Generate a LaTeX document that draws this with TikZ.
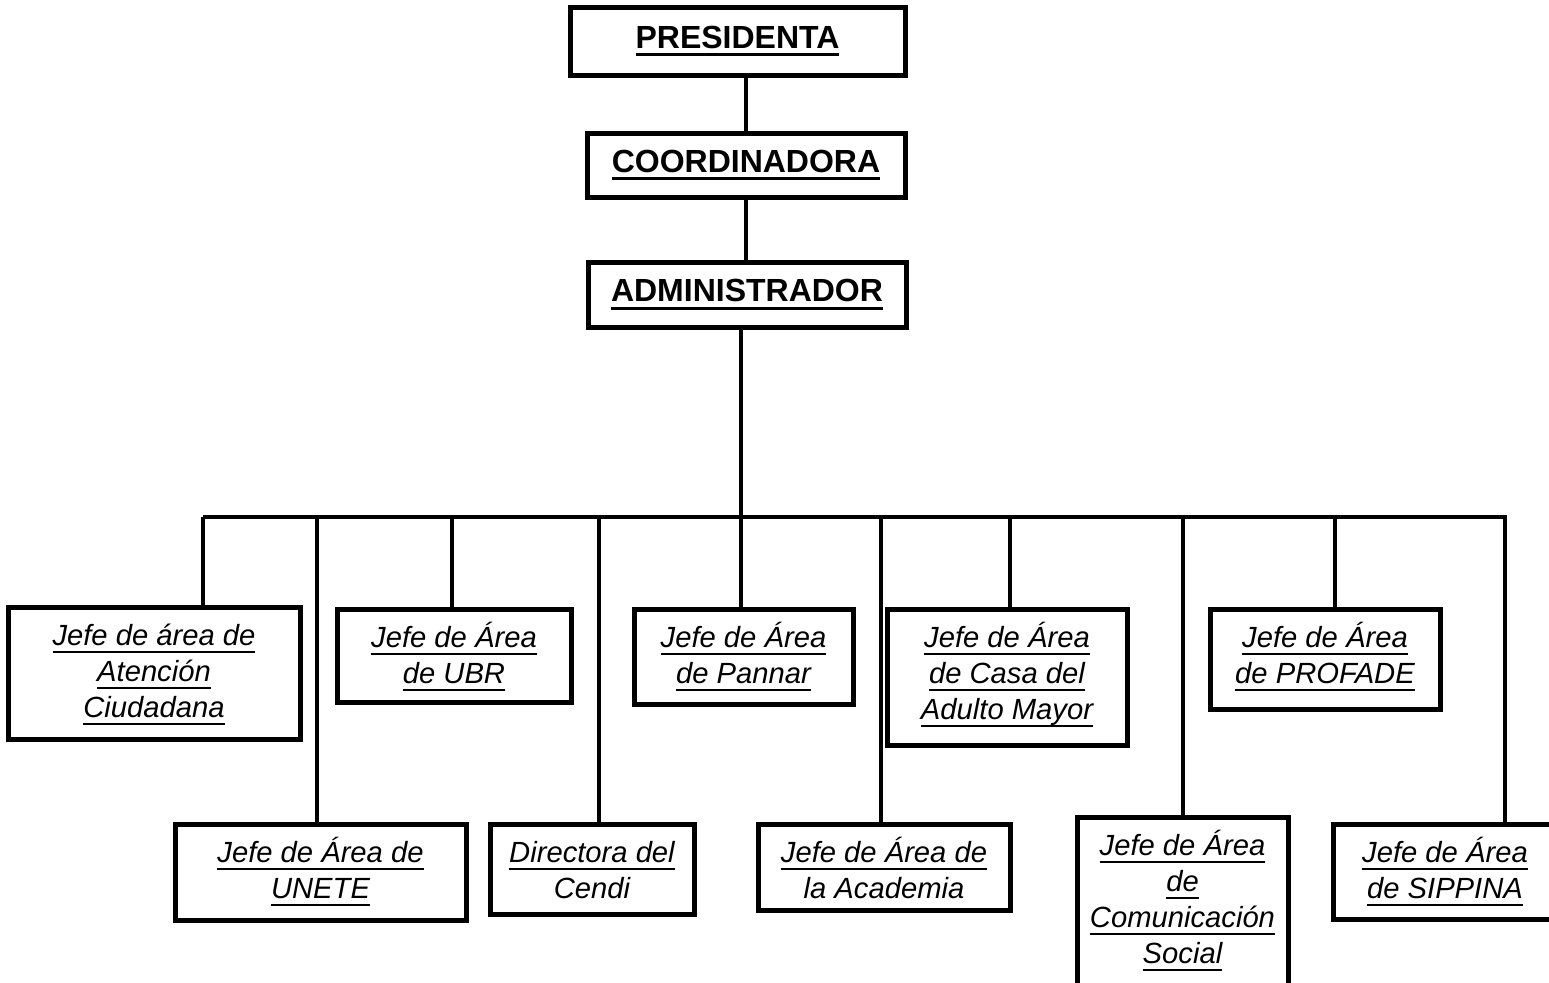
\documentclass[tikz,border=0pt]{standalone}
\usepackage{fontspec}
\setmainfont{Liberation Sans}
\usetikzlibrary{positioning}
\newsavebox{\subrbox}
\newcommand{\subr}[2][1.2pt]{\sbox{\subrbox}{#2}\rlap{\usebox{\subrbox}}\rule[\dimexpr-2.6pt-#1\relax]{\wd\subrbox}{#1}}
\newcommand{\tul}[1]{\subr[1.5pt]{#1}}

\tikzset{
  titulo/.style={draw, line width=2.5pt, inner sep=0pt,
    font=\fontsize{16}{19}\selectfont\bfseries},
  jefe/.style 2 args={draw, line width=2.5pt, anchor=north, inner xsep=0pt, inner ysep=6pt,
    align=center, text height=#1, text depth=#2,
    font=\fontsize{14.6}{18}\selectfont\itshape},
  liga/.style={line width=2.3pt}
}

\begin{document}
\begin{tikzpicture}[x=0.5pt,y=-0.5pt]
  \useasboundingbox (0,0) rectangle (1549,982);
  % direccion
  \node[titulo,minimum width=167.5pt,minimum height=34pt] (pre) at (737.5,41) {\tul{PRESIDENTA}};
  \node[titulo,minimum width=159pt,minimum height=32pt] (coo) at (746,165) {\tul{COORDINADORA}};
  \node[titulo,minimum width=159pt,minimum height=32.5pt] (adm) at (747,294.5) {\tul{ADMINISTRADOR}};
  % jefaturas, fila de arriba
  \node[jefe={49pt}{5pt},minimum width=146pt] (atc) at (154,605)
    {\subr{Jefe de área de}\\ \subr{Atención}\\ \subr{Ciudadana}};
  \node[jefe={31pt}{3.5pt},minimum width=117pt] (ubr) at (454,607)
    {\subr{Jefe de Área}\\ \subr{de UBR}};
  \node[jefe={31pt}{4.5pt},minimum width=109.5pt] (pan) at (743.5,607)
    {\subr{Jefe de Área}\\ \subr{de Pannar}};
  \node[jefe={49pt}{7pt},minimum width=120pt] (cas) at (1007,607)
    {\subr{Jefe de Área}\\ \subr{de Casa del}\\ \subr{Adulto Mayor}};
  \node[jefe={31pt}{7pt},minimum width=115pt] (pro) at (1325,607)
    {\subr{Jefe de Área}\\ \subr{de PROFADE}};
  % jefaturas, fila de abajo
  \node[jefe={31pt}{5pt},minimum width=145.5pt] (une) at (320.5,822)
    {\subr{Jefe de Área de}\\ \subr{UNETE}};
  \node[jefe={31pt}{2pt},minimum width=102pt] (cen) at (592,822)
    {\subr{Directora del}\\ Cendi};
  \node[jefe={31pt}{0pt},minimum width=126pt] (aca) at (884,822)
    {\subr{Jefe de Área de}\\ la Academia};
  \node[jefe={67pt}{20pt},minimum width=105.5pt] (com) at (1182.5,815)
    {\subr{Jefe de Área}\\ \subr{de}\\ \subr{Comunicación}\\ \subr{Social}};
  \node[jefe={31pt}{4.5pt},minimum width=112pt] (sip) at (1445,822)
    {\subr{Jefe de Área}\\ \subr{de SIPPINA}};

  % barra de enlace
  \coordinate (b1) at (203,517);
  \coordinate (b2) at (317,517);
  \coordinate (b3) at (452,517);
  \coordinate (b4) at (599,517);
  \coordinate (b5) at (741,517);
  \coordinate (b6) at (881,517);
  \coordinate (b7) at (1010,517);
  \coordinate (b8) at (1183,517);
  \coordinate (b9) at (1335,517);
  \coordinate (b10) at (1505,517);

  \draw[liga] (coo.north) -- (coo.north |- pre.south);
  \draw[liga] (coo.south) -- (coo.south |- adm.north);
  \draw[liga] (b5 |- adm.south) -- (b5);
  \draw[liga] (b1) -- (b10) -- (b10 |- sip.north);
  \foreach \b/\n in {1/atc,2/une,3/ubr,4/cen,5/pan,6/aca,7/cas,8/com,9/pro}
    \draw[liga] (b\b) -- (b\b |- \n.north);
\end{tikzpicture}
\end{document}
